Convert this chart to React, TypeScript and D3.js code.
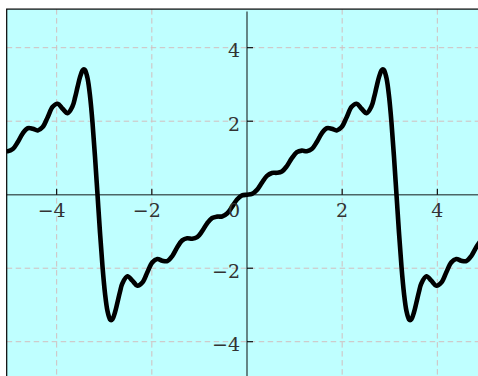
import React from "react";
import * as d3 from "d3";

// Curve samples (x, y)
const xValues: number[] = [
  -5.1313, -5.0265, -4.9218, -4.8171, -4.7124, -4.6077, -4.5029, -4.3982, -4.2935, -4.1888,
  -4.0841, -3.9794, -3.8746, -3.7699, -3.6652, -3.6128, -3.5605, -3.5081, -3.4558, -3.4272,
  -3.4034, -3.351, -3.2987, -3.2463, -3.194, -3.1416, -3.0892, -3.0369, -2.9845, -2.9322,
  -2.8798, -2.856, -2.8274, -2.7751, -2.7227, -2.6704, -2.618, -2.5133, -2.4086, -2.3038,
  -2.1991, -2.0944, -1.9897, -1.885, -1.7802, -1.6755, -1.5708, -1.4661, -1.3614, -1.2566,
  -1.1519, -1.0472, -0.9425, -0.8378, -0.733, -0.6283, -0.5236, -0.4189, -0.3142, -0.2094,
  -0.1047, 0,
  0.1047, 0.2094, 0.3142, 0.4189, 0.5236, 0.6283, 0.733, 0.8378, 0.9425, 1.0472,
  1.1519, 1.2566, 1.3614, 1.4661, 1.5708, 1.6755, 1.7802, 1.885, 1.9897, 2.0944,
  2.1991, 2.3038, 2.4086, 2.5133, 2.618, 2.6704, 2.7227, 2.7751, 2.8274, 2.856,
  2.8798, 2.9322, 2.9845, 3.0369, 3.0892, 3.1416, 3.194, 3.2463, 3.2987, 3.351,
  3.4034, 3.4272, 3.4558, 3.5081, 3.5605, 3.6128, 3.6652, 3.7699, 3.8746, 3.9794,
  4.0841, 4.1888, 4.2935, 4.3982, 4.5029, 4.6077, 4.7124, 4.8171, 4.9218, 5.0265,
  5.1313,
];

const yValues: number[] = [
  1.2002, 1.1845, 1.2417, 1.4318, 1.6698, 1.8076, 1.7952, 1.7492, 1.8414, 2.1094,
  2.3911, 2.4753, 2.3382, 2.2185, 2.4109, 2.6472, 2.9339, 3.206, 3.3845, 3.414,
  3.3914, 3.1668, 2.6828, 1.9522, 1.0289, 0, -1.0289, -1.9522, -2.6828, -3.1668,
  -3.3914, -3.414, -3.3845, -3.206, -2.9339, -2.6472, -2.4109, -2.2185, -2.3382, -2.4753,
  -2.3911, -2.1094, -1.8414, -1.7492, -1.7952, -1.8076, -1.6698, -1.4318, -1.2417, -1.1845,
  -1.2002, -1.1568, -0.9931, -0.7784, -0.6323, -0.596, -0.5923, -0.5116, -0.3299, -0.1324,
  -0.0198, 0,
  0.0198, 0.1324, 0.3299, 0.5116, 0.5923, 0.596, 0.6323, 0.7784, 0.9931, 1.1568,
  1.2002, 1.1845, 1.2417, 1.4318, 1.6698, 1.8076, 1.7952, 1.7492, 1.8414, 2.1094,
  2.3911, 2.4753, 2.3382, 2.2185, 2.4109, 2.6472, 2.9339, 3.206, 3.3845, 3.414,
  3.3914, 3.1668, 2.6828, 1.9522, 1.0289, 0, -1.0289, -1.9522, -2.6828, -3.1668,
  -3.3914, -3.414, -3.3845, -3.206, -2.9339, -2.6472, -2.4109, -2.2185, -2.3382, -2.4753,
  -2.3911, -2.1094, -1.8414, -1.7492, -1.7952, -1.8076, -1.6698, -1.4318, -1.2417, -1.1845,
  -1.2002,
];

const xTicks: number[] = [-4, -2, 2, 4];
const yTicks: number[] = [-4, -2, 2, 4];
const xDomain: [number, number] = [-5.05, 5.05];
const yDomain: [number, number] = [-5.05, 5.05];
const zeroLabel = "0";

const fmt = (v: number) => (v < 0 ? "\u2212" + Math.abs(v) : String(v));

export default function App() {
  const W = 478;
  const H = 376;
  const left = 6.7, right = 487.3, top = 9.1, bottom = 380.3;
  const x = d3.scaleLinear().domain(xDomain).range([left, right]);
  const y = d3.scaleLinear().domain(yDomain).range([bottom, top]);

  const pts: [number, number][] = xValues.map((v, i) => [v, yValues[i]]);
  const line = d3
    .line<[number, number]>()
    .x((d) => x(d[0]))
    .y((d) => y(d[1]))
    .curve(d3.curveCatmullRom.alpha(0.5));

  const x0 = x(0);
  const y0 = y(0);
  const spine = "rgba(0,0,0,0.6)";
  const labelStyle: React.CSSProperties = {
    fontFamily: "DejaVu Serif",
    fontSize: "19px",
    fill: "#333",
  };

  return (
    <svg
      width={W}
      height={H}
      style={{ position: "absolute", left: 0, top: 0, background: "#fff" }}
    >
      <defs>
        <clipPath id="plotclip">
          <rect x={left} y={top} width={right - left} height={bottom - top} />
        </clipPath>
      </defs>
      <rect x={left} y={top} width={right - left} height={bottom - top} fill="#bfffff" />
      {/* grid */}
      <g stroke="#d2bebe" strokeWidth={1} strokeDasharray="5.5,3.5">
        {xTicks.map((t) => (
          <line key={"gx" + t} x1={x(t)} x2={x(t)} y1={top} y2={bottom} />
        ))}
        {yTicks.map((t) => (
          <line key={"gy" + t} x1={left} x2={right} y1={y(t)} y2={y(t)} />
        ))}
      </g>
      {/* center spines */}
      <line x1={left} x2={right} y1={y0} y2={y0} stroke={spine} strokeWidth={1.6} />
      <line x1={x0} x2={x0} y1={top + 2.5} y2={bottom} stroke={spine} strokeWidth={1.6} />
      {/* ticks */}
      <g stroke="#000" strokeWidth={1.1}>
        {xTicks.map((t) => (
          <line key={"tx" + t} x1={x(t)} x2={x(t)} y1={y0} y2={y0 - 6} />
        ))}
        {yTicks.map((t) => (
          <line key={"ty" + t} x1={x0} x2={x0 + 6} y1={y(t)} y2={y(t)} />
        ))}
      </g>
      {/* curve */}
      <g clipPath="url(#plotclip)">
        <path
          d={line(pts) || ""}
          fill="none"
          stroke="#000"
          strokeWidth={4.6}
          strokeLinejoin="round"
          strokeLinecap="round"
        />
      </g>
      {/* frame */}
      <rect
        x={left}
        y={top}
        width={right - left}
        height={bottom - top}
        fill="none"
        stroke="#000"
        strokeWidth={1.2}
      />
      {/* tick labels */}
      <g>
        {xTicks.map((t) => (
          <text
            key={"lx" + t}
            x={x(t) - (t < 0 ? 5 : 0)}
            y={y0 + 22.5}
            textAnchor="middle"
            style={labelStyle}
          >
            {fmt(t)}
          </text>
        ))}
        <text x={x0 - 7} y={y0 + 22.5} textAnchor="end" style={labelStyle}>
          {zeroLabel}
        </text>
        {yTicks.map((t) => (
          <text key={"ly" + t} x={x0 - 7} y={y(t) + 9.6} textAnchor="end" style={labelStyle}>
            {fmt(t)}
          </text>
        ))}
      </g>
    </svg>
  );
}
